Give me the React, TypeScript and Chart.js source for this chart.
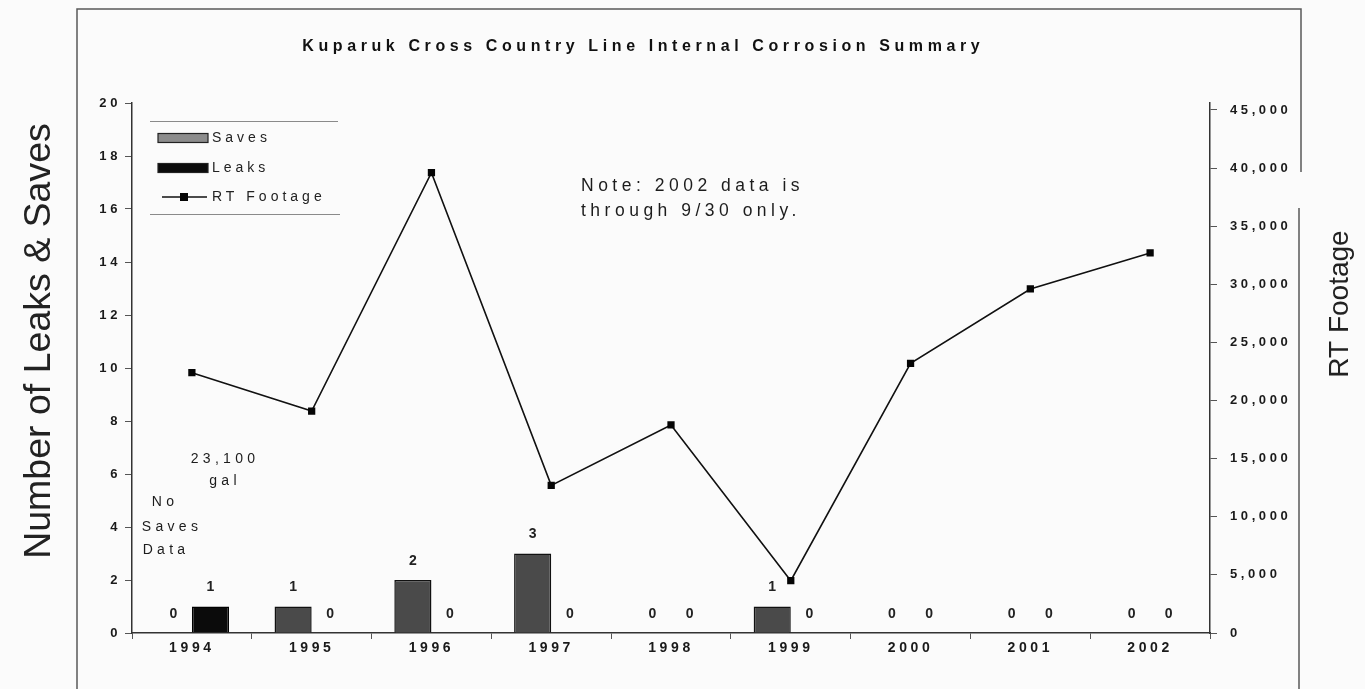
import React, { useEffect, useRef } from "react";
import { Chart, registerables } from "chart.js";

Chart.register(...registerables);

const years = ["1994", "1995", "1996", "1997", "1998", "1999", "2000", "2001", "2002"];
const saves = [0, 1, 2, 3, 0, 1, 0, 0, 0];
const leaks = [1, 0, 0, 0, 0, 0, 0, 0, 0];
const rtFootage = [22400, 19100, 39600, 12700, 17900, 4500, 23200, 29600, 32700];
const rightTicks = [0, 5000, 10000, 15000, 20000, 25000, 30000, 35000, 40000, 45000];

const titleText = "Kuparuk Cross Country Line Internal Corrosion Summary";
const leftAxisTitle = "Number of Leaks & Saves";
const rightAxisTitle = "RT Footage";
const noteLines = ["Note: 2002 data is", "through 9/30 only."];
const leakVolumeLines = ["23,100", "gal"];
const noSavesLines = ["No", "Saves", "Data"];

const FONT = "'Liberation Sans', Arial, Helvetica, sans-serif";

const spacingPlugin = {
  id: "spacing",
  beforeDraw(chart: any) {
    chart.ctx.letterSpacing = "3.6px";
  },
};

function txt(ctx: any, s: string, x: number, y: number, font: string, ls: number, align: string = "left", baseline: string = "alphabetic", color = "#1c1c1c") {
  ctx.save();
  ctx.font = font;
  ctx.letterSpacing = ls + "px";
  ctx.fillStyle = color;
  ctx.textAlign = align;
  ctx.textBaseline = baseline;
  const dx = align === "center" ? ls / 2 : align === "right" ? ls : 0;
  ctx.fillText(s, x + dx, y);
  ctx.restore();
}

const overlayPlugin = {
  id: "overlay",
  afterDraw(chart: any) {
    const ctx = chart.ctx;
    const xs = chart.scales.x;
    const ys = chart.scales.y;
    // frame
    ctx.save();
    ctx.strokeStyle = "#5a5a5a";
    ctx.lineWidth = 1.5;
    ctx.beginPath();
    ctx.moveTo(77, 689);
    ctx.lineTo(77, 9);
    ctx.lineTo(1301, 9);
    ctx.lineTo(1301, 172);
    ctx.moveTo(1299, 208);
    ctx.lineTo(1299, 689);
    ctx.stroke();
    ctx.restore();

    // title
    txt(ctx, titleText, 641, 47, `bold 16px ${FONT}`, 4.6, "center", "middle", "#111");

    // axis titles
    ctx.save();
    ctx.translate(40, 341);
    ctx.rotate(-Math.PI / 2);
    txt(ctx, leftAxisTitle, 0, 0, `37.5px ${FONT}`, 0, "center", "middle", "#222");
    ctx.restore();
    ctx.save();
    ctx.translate(1340, 304);
    ctx.rotate(-Math.PI / 2);
    txt(ctx, rightAxisTitle, 0, 0, `28px ${FONT}`, 0, "center", "middle", "#222");
    ctx.restore();

    // legend
    const ds = chart.data.datasets;
    ctx.save();
    ctx.strokeStyle = "#8a8a8a";
    ctx.lineWidth = 1;
    ctx.beginPath();
    ctx.moveTo(150, 121.5);
    ctx.lineTo(338, 121.5);
    ctx.moveTo(150, 214.5);
    ctx.lineTo(340, 214.5);
    ctx.stroke();
    const rows = [138, 168, 197];
    const order = [1, 2, 0];
    order.forEach((di, i) => {
      const d = ds[di];
      const y = rows[i];
      if (d.type === "line") {
        ctx.strokeStyle = d.borderColor;
        ctx.lineWidth = 1.5;
        ctx.beginPath();
        ctx.moveTo(162, y);
        ctx.lineTo(207, y);
        ctx.stroke();
        ctx.fillStyle = d.pointBackgroundColor;
        ctx.fillRect(180, y - 4, 8, 8);
      } else {
        ctx.fillStyle = d.legendColor;
        ctx.fillRect(158, y - 4.5, 50, 9);
        ctx.strokeStyle = "#222";
        ctx.lineWidth = 1.2;
        ctx.strokeRect(158, y - 4.5, 50, 9);
      }
      txt(ctx, d.label, 212, y, `14px ${FONT}`, 4, "left", "middle", "#222");
    });
    ctx.restore();

    // note
    txt(ctx, noteLines[0], 581, 191, `17.5px ${FONT}`, 4.5, "left", "alphabetic", "#1c1c1c");
    txt(ctx, noteLines[1], 581, 216, `17.5px ${FONT}`, 4.5, "left", "alphabetic", "#1c1c1c");

    // annotations near 1994
    const x94 = xs.getPixelForValue(0);
    txt(ctx, leakVolumeLines[0], x94 + 31, ys.getPixelForValue(6.4), `14px ${FONT}`, 4.3, "center", "alphabetic");
    txt(ctx, leakVolumeLines[1], x94 + 31, ys.getPixelForValue(5.6), `14px ${FONT}`, 4.3, "center", "alphabetic");
    txt(ctx, noSavesLines[0], x94 - 29, ys.getPixelForValue(4.8), `14px ${FONT}`, 4.3, "center", "alphabetic");
    txt(ctx, noSavesLines[1], x94 - 22, ys.getPixelForValue(3.85), `14px ${FONT}`, 4.3, "center", "alphabetic");
    txt(ctx, noSavesLines[2], x94 - 28, ys.getPixelForValue(2.98), `14px ${FONT}`, 4.3, "center", "alphabetic");

    // bar value labels
    [1, 2].forEach((di) => {
      const meta = chart.getDatasetMeta(di);
      meta.data.forEach((el: any, i: number) => {
        const v = ds[di].data[i];
        txt(ctx, String(v), el.x, el.y - 12, `bold 14px ${FONT}`, 2, "center", "bottom", "#222");
      });
    });
  },
};

export default function App() {
  const ref = useRef<HTMLCanvasElement | null>(null);
  useEffect(() => {
    if (!ref.current) return;
    const chart = new Chart(ref.current, {
      type: "bar",
      data: {
        labels: years,
        datasets: [
          {
            type: "line",
            label: "RT Footage",
            data: rtFootage,
            yAxisID: "y1",
            borderColor: "#111",
            borderWidth: 1.6,
            pointStyle: "rect",
            pointRadius: 4,
            pointBackgroundColor: "#050505",
            pointBorderColor: "#050505",
            tension: 0,
            order: 0,
          } as any,
          {
            type: "bar",
            label: "Saves",
            data: saves,
            yAxisID: "y",
            backgroundColor: "#4a4a4a",
            legendColor: "#8c8c8c",
            borderColor: "#111",
            borderWidth: 1.5,
            categoryPercentage: 0.62,
            barPercentage: 1,
            order: 1,
          } as any,
          {
            type: "bar",
            label: "Leaks",
            data: leaks,
            yAxisID: "y",
            backgroundColor: "#0b0b0b",
            legendColor: "#0b0b0b",
            borderColor: "#000",
            borderWidth: 1.5,
            categoryPercentage: 0.62,
            barPercentage: 1,
            order: 1,
          } as any,
        ],
      },
      options: {
        responsive: false,
        animation: false,
        devicePixelRatio: 1,
        layout: { padding: { top: 103, left: 0, right: 0, bottom: 0 } },
        plugins: {
          legend: { display: false },
          tooltip: { enabled: false },
          title: { display: false },
        },
        scales: {
          x: {
            type: "category",
            offset: true,
            grid: { display: true, drawOnChartArea: false, offset: true, tickLength: 6, color: "#555", lineWidth: 1 },
            border: { color: "#333", width: 1.5 },
            ticks: { font: { family: FONT, size: 14, weight: "bold" }, color: "#1a1a1a", padding: 1, maxRotation: 0 },
            afterFit: (s: any) => {
              s.height = 56;
            },
          },
          y: {
            position: "left",
            min: 0,
            max: 20,
            ticks: { stepSize: 2, font: { family: FONT, size: 13, weight: "bold" }, color: "#1a1a1a", padding: 4 },
            grid: { drawOnChartArea: false, tickLength: 7, color: "#555" },
            border: { color: "#333", width: 1.5 },
            afterFit: (s: any) => {
              s.width = 132;
            },
          },
          y1: {
            position: "right",
            min: 0,
            max: 45600,
            afterBuildTicks: (s: any) => {
              s.ticks = rightTicks.map((v) => ({ value: v }));
            },
            ticks: {
              font: { family: FONT, size: 13, weight: "bold" },
              color: "#1a1a1a",
              padding: 13,
              callback: (v: any) => Number(v).toLocaleString("en-US"),
            },
            grid: { drawOnChartArea: false, tickLength: 7, color: "#555" },
            border: { color: "#333", width: 1.5 },
            afterFit: (s: any) => {
              s.width = 155;
            },
          },
        },
      } as any,
      plugins: [spacingPlugin, overlayPlugin],
    });
    return () => chart.destroy();
  }, []);
  return (
    <div style={{ position: "fixed", left: 0, top: 0, width: 1365, height: 689, background: "#fbfbfb" }}>
      <canvas ref={ref} width={1365} height={689} style={{ width: 1365, height: 689, display: "block" }} />
    </div>
  );
}
